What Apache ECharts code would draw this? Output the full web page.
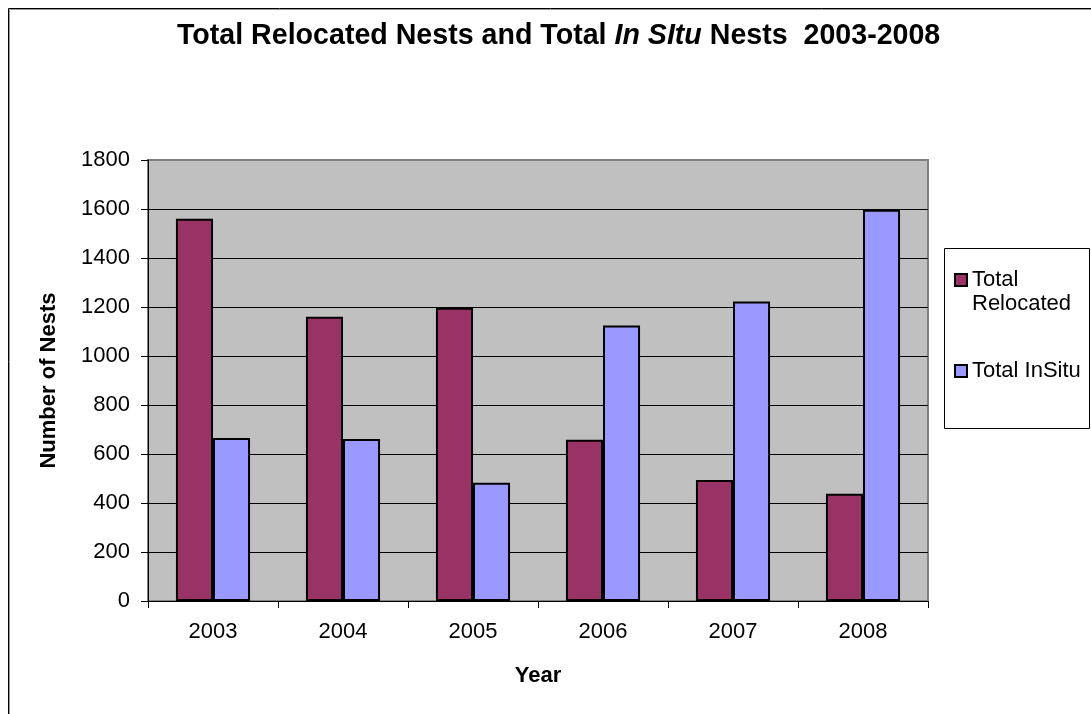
<!DOCTYPE html>
<html>
<head>
<meta charset="utf-8">
<script src="https://cdn.jsdelivr.net/npm/echarts@6/dist/echarts.min.js"></script>
<style>
  html, body { margin: 0; padding: 0; background: #ffffff; }
  #chart { width: 1091px; height: 714px; }
</style>
</head>
<body>
<div id="chart"></div>
<script>
// Nest counts per season
const years = ['2003', '2004', '2005', '2006', '2007', '2008'];
const totalRelocated = [1560, 1160, 1197, 658, 494, 438];
const totalInSitu = [665, 661, 483, 1125, 1222, 1597];
const yTicks = { min: 0, max: 1800, interval: 200 };

const FONT = '"Liberation Sans", Arial, sans-serif';

const chart = echarts.init(document.getElementById('chart'));

chart.setOption({
  animation: false,
  backgroundColor: '#ffffff',
  title: {
    left: 177,
    top: 20,
    padding: 0,
    text: '{b|Total Relocated Nests and Total }{i|In SItu}{b| Nests  2003-2008}',
    textStyle: {
      rich: {
        b: { fontFamily: FONT, fontSize: 28.6, fontWeight: 'bold', color: '#000', lineHeight: 32 },
        i: { fontFamily: FONT, fontSize: 28.6, fontWeight: 'bold', fontStyle: 'italic', color: '#000', lineHeight: 32 }
      }
    }
  },
  graphic: [
    // outer chart frame
    { type: 'rect', z: -10, shape: { x: 8.5, y: 8.5, width: 3000, height: 3000 },
      style: { fill: 'none', stroke: '#000', lineWidth: 1 } },
    { type: 'rect', z: -10, shape: { x: 9.5, y: 9.5, width: 3000, height: 3000 },
      style: { fill: 'none', stroke: '#9a9a9a', lineWidth: 1 } },
    // legend frame
    { type: 'rect', z: -5, shape: { x: 944.5, y: 248.5, width: 145, height: 180 },
      style: { fill: '#ffffff', stroke: '#000', lineWidth: 1 } }
  ],
  grid: {
    left: 148, top: 160, right: 163, bottom: 113,
    show: true,
    backgroundColor: '#c0c0c0',
    borderColor: '#808080',
    borderWidth: 2
  },
  legend: [
    {
      data: ['Total Relocated'],
      left: 954, top: 244,
      orient: 'vertical',
      padding: 0,
      selectedMode: false,
      icon: 'rect',
      itemWidth: 12, itemHeight: 12,
      itemStyle: { borderColor: '#000', borderWidth: 2 },
      // blank first line keeps the icon level with "Total"
      formatter: () => ' \nTotal\nRelocated',
      textStyle: { fontFamily: FONT, fontSize: 22, color: '#000', lineHeight: 24 }
    },
    {
      data: ['Total InSitu'],
      left: 954, top: 359,
      orient: 'vertical',
      padding: 0,
      selectedMode: false,
      icon: 'rect',
      itemWidth: 12, itemHeight: 12,
      itemStyle: { borderColor: '#000', borderWidth: 2 },
      textStyle: { fontFamily: FONT, fontSize: 22, color: '#000', lineHeight: 24 }
    }
  ],
  xAxis: {
    type: 'category',
    data: years,
    name: 'Year',
    nameLocation: 'middle',
    nameGap: 64,
    nameTextStyle: { fontFamily: FONT, fontSize: 22, fontWeight: 'bold', color: '#000' },
    axisLine: { lineStyle: { color: '#000', width: 1 } },
    axisTick: { show: true, length: 7, lineStyle: { color: '#000' } },
    axisLabel: { fontFamily: FONT, fontSize: 22, color: '#000', margin: 20 },
    splitLine: { show: false }
  },
  yAxis: {
    type: 'value',
    min: yTicks.min, max: yTicks.max, interval: yTicks.interval,
    name: 'Number of Nests',
    nameLocation: 'middle',
    nameGap: 88,
    nameRotate: 90,
    nameTextStyle: { fontFamily: FONT, fontSize: 22, fontWeight: 'bold', color: '#000' },
    axisLine: { show: true, lineStyle: { color: '#000', width: 1 } },
    axisTick: { show: true, length: 7, lineStyle: { color: '#000' } },
    axisLabel: { fontFamily: FONT, fontSize: 22, color: '#000', margin: 18, formatter: (v) => String(v) },
    splitLine: { show: true, showMinLine: false, showMaxLine: false, lineStyle: { color: '#000', width: 1 } }
  },
  series: [
    {
      name: 'Total Relocated',
      type: 'bar',
      data: totalRelocated,
      barGap: '0%',
      barCategoryGap: '43%',
      itemStyle: { color: '#993366', borderColor: '#000', borderWidth: 2 }
    },
    {
      name: 'Total InSitu',
      type: 'bar',
      data: totalInSitu,
      barGap: '0%',
      barCategoryGap: '43%',
      itemStyle: { color: '#9999ff', borderColor: '#000', borderWidth: 2 }
    }
  ]
});
</script>
</body>
</html>
